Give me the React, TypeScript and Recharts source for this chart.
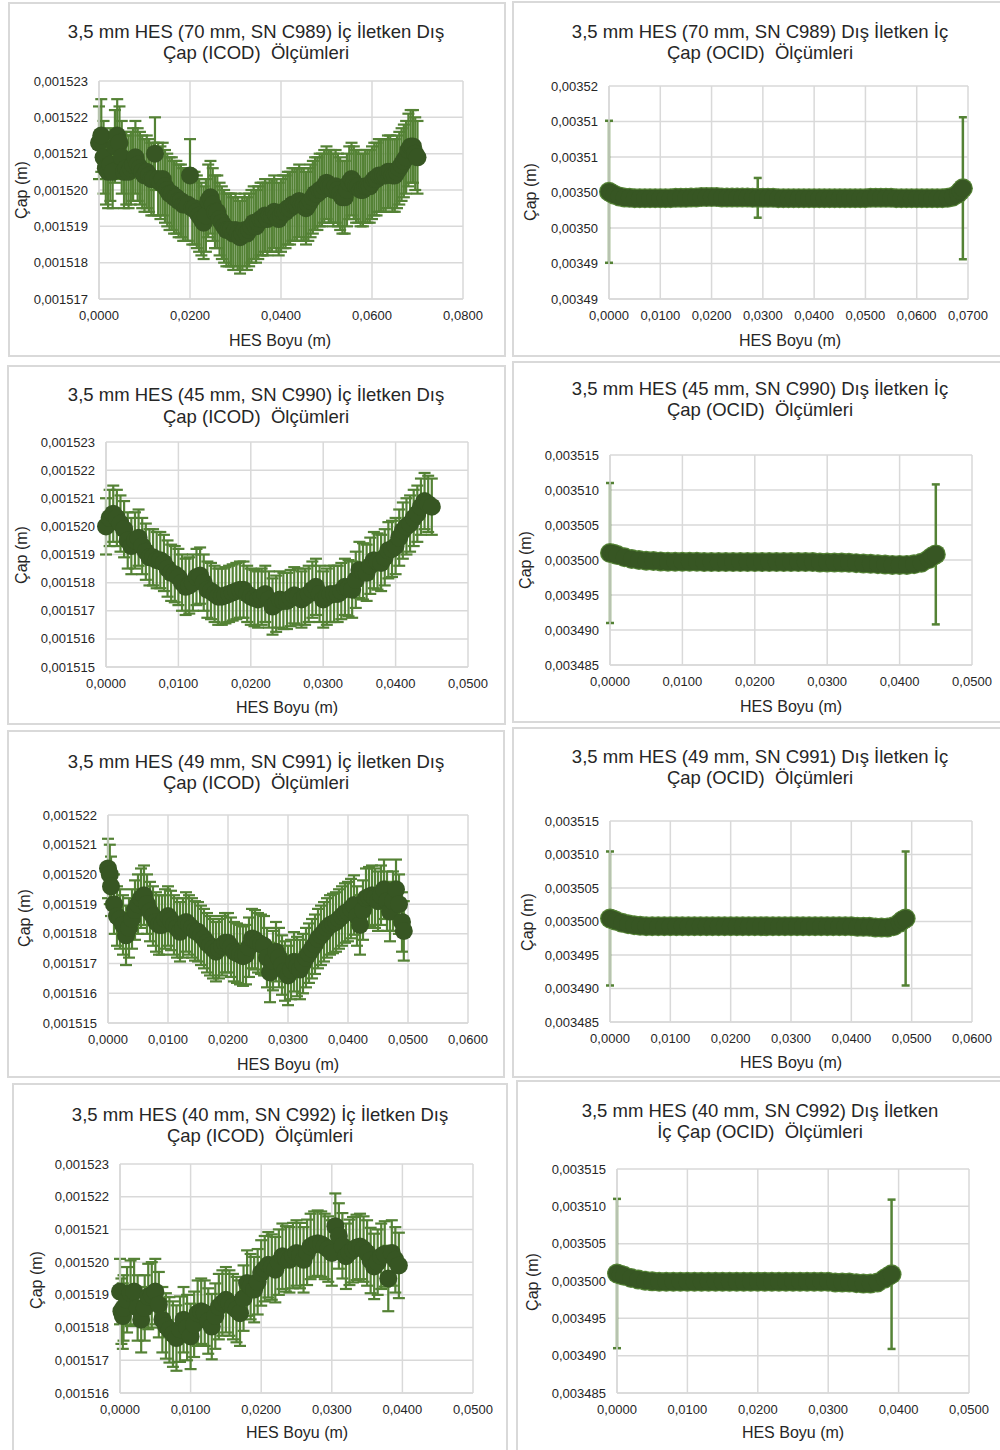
import { CartesianGrid, ErrorBar, Scatter, ScatterChart, XAxis, YAxis } from "recharts";

// [HES boyu (mm), çap (µm)]
type Pair = [number, number];

// --- İç iletken dış çap (ICOD) ---
const c989Icod: Pair[] = [
  [0, 1521.3], [0.5, 1521.5], [1, 1520.9], [1.5, 1520.6], [2, 1520.5], [2.5, 1520.7], [3, 1520.5], [3.5, 1521.2],
  [4, 1521.5], [4.5, 1521.3], [5, 1520.9], [5.5, 1520.5], [6, 1520.6], [6.5, 1520.5], [7, 1520.6], [7.5, 1520.7],
  [8, 1520.9], [8.5, 1520.7], [9, 1520.6], [9.5, 1520.5], [10, 1520.4], [10.5, 1520.5], [11, 1520.4], [11.5, 1520.3],
  [12, 1520.3], [12.3, 1521.0], [13, 1520.3], [13.5, 1520.2], [14, 1520.3], [14.5, 1520.1], [15, 1520.0], [15.5, 1519.9],
  [16, 1519.9], [16.5, 1519.8], [17, 1519.8], [17.5, 1519.7], [18, 1519.7], [18.5, 1519.6], [19, 1519.6], [19.5, 1519.6],
  [20, 1520.4], [20.5, 1519.5], [21, 1519.5], [21.5, 1519.4], [22, 1519.3], [22.5, 1519.2], [23, 1519.1], [23.5, 1519.3],
  [24, 1519.7], [24.5, 1519.8], [25, 1519.6], [25.5, 1519.4], [26, 1519.4], [26.5, 1519.2], [27, 1519.1], [27.5, 1519.0],
  [28, 1518.9], [28.5, 1518.9], [29, 1518.9], [29.5, 1518.8], [30, 1518.9], [30.5, 1518.8], [31, 1518.7], [31.5, 1518.8],
  [32, 1518.9], [32.5, 1518.8], [33, 1518.9], [33.5, 1519.0], [34, 1519.1], [34.5, 1519.0], [35, 1519.1], [35.5, 1519.2],
  [36, 1519.2], [36.5, 1519.3], [37, 1519.2], [37.5, 1519.3], [38, 1519.3], [38.5, 1519.4], [39, 1519.3], [39.5, 1519.2],
  [40, 1519.3], [40.5, 1519.4], [41, 1519.4], [41.5, 1519.5], [42, 1519.5], [42.5, 1519.6], [43, 1519.6], [43.5, 1519.6],
  [44, 1519.7], [44.5, 1519.6], [45, 1519.6], [45.5, 1519.5], [46, 1519.6], [46.5, 1519.7], [47, 1519.8], [47.5, 1519.9],
  [48, 1519.9], [48.5, 1520.0], [49, 1520.0], [49.5, 1520.1], [50, 1520.2], [50.5, 1520.1], [51, 1520.1], [51.5, 1520.0],
  [52, 1520.1], [52.5, 1520.0], [53, 1519.9], [53.5, 1519.8], [54, 1519.8], [54.5, 1520.0], [55, 1520.2], [55.5, 1520.3],
  [56, 1520.2], [56.5, 1520.1], [57, 1520.1], [57.5, 1520.0], [58, 1520.0], [58.5, 1520.1], [59, 1520.1], [59.5, 1520.1],
  [60, 1520.2], [60.5, 1520.3], [61, 1520.3], [61.5, 1520.4], [62, 1520.4], [62.5, 1520.4], [63, 1520.4], [63.5, 1520.5],
  [64, 1520.5], [64.5, 1520.4], [65, 1520.4], [65.5, 1520.5], [66, 1520.6], [66.5, 1520.7], [67, 1520.8], [67.5, 1520.9],
  [68, 1521.1], [68.5, 1521.2], [69, 1521.2], [69.5, 1521.0], [70, 1520.9],
];

const c990Icod: Pair[] = [
  [0, 1520.0], [0.5, 1520.3], [1, 1520.45], [1.5, 1520.3], [2, 1520.1], [2.5, 1519.9], [3, 1519.5], [3.5, 1519.3],
  [4, 1519.5], [4.5, 1519.6], [5, 1519.3], [5.5, 1519.1], [6, 1518.9], [6.5, 1518.9], [7, 1518.8], [7.5, 1518.8],
  [8, 1518.7], [8.5, 1518.5], [9, 1518.35], [9.5, 1518.3], [10, 1518.2], [10.5, 1518.0], [11, 1517.85], [11.5, 1517.9],
  [12, 1518.0], [12.5, 1518.2], [13, 1518.25], [13.5, 1518.0], [14, 1517.75], [14.5, 1517.7], [15, 1517.6], [15.5, 1517.5],
  [16, 1517.5], [16.5, 1517.55], [17, 1517.6], [17.5, 1517.65], [18, 1517.7], [18.5, 1517.75], [19, 1517.75], [19.5, 1517.6],
  [20, 1517.5], [20.5, 1517.45], [21, 1517.4], [21.5, 1517.5], [22, 1517.6], [22.5, 1517.4], [23, 1517.15], [23.5, 1517.25],
  [24, 1517.4], [24.5, 1517.35], [25, 1517.35], [25.5, 1517.45], [26, 1517.55], [26.5, 1517.5], [27, 1517.4], [27.5, 1517.5],
  [28, 1517.6], [28.5, 1517.75], [29, 1517.85], [29.5, 1517.6], [30, 1517.4], [30.5, 1517.5], [31, 1517.6], [31.5, 1517.6],
  [32, 1517.6], [32.5, 1517.7], [33, 1517.85], [33.5, 1517.8], [34, 1517.75], [34.5, 1518.1], [35, 1518.45], [35.5, 1518.4],
  [36, 1518.35], [36.5, 1518.6], [37, 1518.8], [37.5, 1518.75], [38, 1518.7], [38.5, 1518.9], [39, 1519.15], [39.5, 1519.2],
  [40, 1519.3], [40.5, 1519.6], [41, 1519.85], [41.5, 1520.0], [42, 1520.1], [42.5, 1520.3], [43, 1520.45], [43.5, 1520.7],
  [44, 1520.9], [44.5, 1520.8], [45, 1520.7],
];

const c991Icod: Pair[] = [
  [0, 1520.2], [0.3, 1520.0], [0.5, 1519.6], [1, 1519.0], [1.5, 1518.6], [2, 1518.5], [2.5, 1518.3], [3, 1517.95],
  [3.5, 1518.2], [4, 1518.5], [4.5, 1518.8], [5, 1519.0], [5.5, 1519.2], [6, 1519.3], [6.5, 1519.0], [7, 1518.75],
  [7.5, 1518.6], [8, 1518.4], [8.5, 1518.3], [9, 1518.3], [9.5, 1518.5], [10, 1518.6], [10.5, 1518.45], [11, 1518.3],
  [11.5, 1518.2], [12, 1518.07], [12.5, 1518.2], [13, 1518.4], [13.5, 1518.3], [14, 1518.2], [14.5, 1518.1], [15, 1518.07],
  [15.5, 1517.95], [16, 1517.84], [16.5, 1517.7], [17, 1517.6], [17.5, 1517.5], [18, 1517.4], [18.5, 1517.5], [19, 1517.6],
  [19.5, 1517.7], [20, 1517.7], [20.5, 1517.55], [21, 1517.4], [21.5, 1517.35], [22, 1517.3], [22.5, 1517.25], [23, 1517.3],
  [23.5, 1517.55], [24, 1517.84], [24.5, 1517.8], [25, 1517.7], [25.5, 1517.65], [26, 1517.6], [26.5, 1517.2], [27, 1516.7],
  [27.5, 1517.1], [28, 1517.4], [28.5, 1517.2], [29, 1516.95], [29.5, 1516.75], [30, 1516.6], [30.5, 1516.8], [31, 1517.06],
  [31.5, 1516.9], [32, 1516.8], [32.5, 1517.0], [33, 1517.2], [33.5, 1517.35], [34, 1517.5], [34.5, 1517.65], [35, 1517.84],
  [35.5, 1517.95], [36, 1518.07], [36.5, 1518.2], [37, 1518.3], [37.5, 1518.35], [38, 1518.4], [38.5, 1518.5], [39, 1518.6],
  [39.5, 1518.7], [40, 1518.75], [40.5, 1518.85], [41, 1518.97], [41.5, 1518.6], [42, 1518.3], [42.5, 1518.8], [43, 1519.2],
  [43.5, 1519.25], [44, 1519.3], [44.5, 1519.2], [45, 1519.1], [45.5, 1519.3], [46, 1519.5], [46.5, 1519.1], [47, 1518.75],
  [47.5, 1519.1], [48, 1519.5], [48.5, 1519.0], [49, 1518.4], [49.3, 1518.1],
];

const c992Icod: Pair[] = [
  [0, 1519.1], [0.2, 1518.5], [0.4, 1518.35], [0.5, 1518.6], [1, 1518.85], [1.5, 1519.05], [2, 1519.1], [2.5, 1518.6],
  [3, 1518.24], [3.5, 1518.6], [4, 1518.95], [4.5, 1519.0], [5, 1519.1], [5.5, 1518.7], [6, 1518.24], [6.5, 1518.05],
  [7, 1517.93], [7.5, 1517.8], [8, 1517.68], [8.5, 1517.95], [9, 1518.24], [9.5, 1518.0], [10, 1517.73], [10.5, 1518.1],
  [11, 1518.44], [11.5, 1518.5], [12, 1518.44], [12.5, 1518.2], [13, 1518.03], [13.5, 1518.35], [14, 1518.64], [14.5, 1518.75],
  [15, 1518.85], [15.5, 1518.75], [16, 1518.64], [16.5, 1518.55], [17, 1518.44], [17.5, 1518.9], [18, 1519.36], [18.5, 1519.25],
  [19, 1519.16], [19.5, 1519.4], [20, 1519.67], [20.5, 1519.8], [21, 1519.92], [21.5, 1519.85], [22, 1519.77], [22.5, 1520.0],
  [23, 1520.18], [23.5, 1520.1], [24, 1520.07], [24.5, 1520.2], [25, 1520.28], [25.5, 1520.2], [26, 1520.07], [26.5, 1520.3],
  [27, 1520.48], [27.5, 1520.55], [28, 1520.58], [28.5, 1520.55], [29, 1520.48], [29.5, 1520.4], [30, 1520.28], [30.5, 1521.1],
  [31, 1520.8], [31.5, 1520.5], [32, 1520.18], [32.5, 1520.3], [33, 1520.38], [33.5, 1520.45], [34, 1520.48], [34.5, 1520.4],
  [35, 1520.28], [35.5, 1520.05], [36, 1519.87], [36.5, 1520.0], [37, 1520.18], [37.5, 1520.25], [38, 1519.5], [38.5, 1520.28],
  [39, 1520.07], [39.5, 1519.9],
];

const ICOD_ERR_UM = 1;

// --- Dış iletken iç çap (OCID) ---
const c989Ocid: Pair[] = [
  [0, 3500.1], [0.5, 3499.9], [1, 3499.7], [2, 3499.45], [3, 3499.3], [4, 3499.25], [5, 3499.2], [6, 3499.2],
  [7, 3499.2], [8, 3499.2], [9, 3499.2], [10, 3499.2], [11, 3499.2], [12, 3499.2], [13, 3499.25], [14, 3499.25],
  [15, 3499.25], [16, 3499.3], [17, 3499.3], [18, 3499.35], [19, 3499.35], [20, 3499.35], [21, 3499.35], [22, 3499.3],
  [23, 3499.3], [24, 3499.3], [25, 3499.3], [26, 3499.3], [27, 3499.3], [28, 3499.25], [29, 3499.25], [30, 3499.25],
  [31, 3499.25], [32, 3499.25], [33, 3499.2], [34, 3499.2], [35, 3499.2], [36, 3499.2], [37, 3499.2], [38, 3499.2],
  [39, 3499.2], [40, 3499.2], [41, 3499.2], [42, 3499.2], [43, 3499.2], [44, 3499.2], [45, 3499.2], [46, 3499.2],
  [47, 3499.2], [48, 3499.2], [49, 3499.2], [50, 3499.2], [51, 3499.25], [52, 3499.25], [53, 3499.25], [54, 3499.25],
  [55, 3499.25], [56, 3499.2], [57, 3499.2], [58, 3499.2], [59, 3499.2], [60, 3499.2], [61, 3499.2], [62, 3499.2],
  [63, 3499.2], [64, 3499.2], [65, 3499.2], [66, 3499.25], [67, 3499.4], [68, 3499.8], [68.5, 3500.2], [69, 3500.6],
];
const c989OcidErr: Pair[] = [[0, 10], [29, 2.8], [69, 10]];

const c990Ocid: Pair[] = [
  [0, 3501.0], [0.5, 3500.9], [1, 3500.7], [2, 3500.4], [3, 3500.15], [4, 3500.0], [5, 3499.9], [6, 3499.85],
  [7, 3499.8], [8, 3499.75], [9, 3499.75], [10, 3499.75], [11, 3499.75], [12, 3499.75], [13, 3499.7], [14, 3499.7],
  [15, 3499.7], [16, 3499.7], [17, 3499.7], [18, 3499.7], [19, 3499.7], [20, 3499.7], [21, 3499.7], [22, 3499.7],
  [23, 3499.7], [24, 3499.7], [25, 3499.7], [26, 3499.7], [27, 3499.7], [28, 3499.7], [29, 3499.65], [30, 3499.65],
  [31, 3499.65], [32, 3499.65], [33, 3499.6], [34, 3499.55], [35, 3499.5], [36, 3499.45], [37, 3499.4], [38, 3499.35],
  [39, 3499.3], [40, 3499.3], [41, 3499.3], [42, 3499.4], [43, 3499.6], [44, 3500.1], [44.5, 3500.5], [45, 3500.8],
];
const c990OcidErr: Pair[] = [[0, 10], [45, 10]];

const c991Ocid: Pair[] = [
  [0, 3500.45], [0.5, 3500.3], [1, 3500.1], [2, 3499.8], [3, 3499.6], [4, 3499.45], [5, 3499.35], [6, 3499.3],
  [7, 3499.3], [8, 3499.3], [9, 3499.3], [10, 3499.3], [11, 3499.3], [12, 3499.3], [13, 3499.3], [14, 3499.3],
  [15, 3499.3], [16, 3499.3], [17, 3499.3], [18, 3499.3], [19, 3499.3], [20, 3499.3], [21, 3499.3], [22, 3499.3],
  [23, 3499.3], [24, 3499.3], [25, 3499.3], [26, 3499.3], [27, 3499.3], [28, 3499.3], [29, 3499.3], [30, 3499.3],
  [31, 3499.3], [32, 3499.3], [33, 3499.3], [34, 3499.3], [35, 3499.3], [36, 3499.3], [37, 3499.3], [38, 3499.3],
  [39, 3499.3], [40, 3499.3], [41, 3499.2], [42, 3499.2], [43, 3499.2], [44, 3499.1], [45, 3499.1], [46, 3499.1],
  [47, 3499.3], [48, 3499.8], [48.5, 3500.2], [49, 3500.45],
];
const c991OcidErr: Pair[] = [[0, 10], [49, 10]];

const c992Ocid: Pair[] = [
  [0, 3501.0], [0.5, 3500.85], [1, 3500.7], [2, 3500.4], [3, 3500.2], [4, 3500.05], [5, 3499.95], [6, 3499.9],
  [7, 3499.9], [8, 3499.9], [9, 3499.9], [10, 3499.9], [11, 3499.9], [12, 3499.9], [13, 3499.9], [14, 3499.9],
  [15, 3499.9], [16, 3499.9], [17, 3499.9], [18, 3499.9], [19, 3499.9], [20, 3499.9], [21, 3499.9], [22, 3499.9],
  [23, 3499.9], [24, 3499.9], [25, 3499.9], [26, 3499.9], [27, 3499.9], [28, 3499.9], [29, 3499.9], [30, 3499.9],
  [31, 3499.8], [32, 3499.8], [33, 3499.8], [34, 3499.7], [35, 3499.65], [36, 3499.65], [37, 3499.8], [38, 3500.3],
  [38.5, 3500.6], [39, 3500.9],
];
const c992OcidErr: Pair[] = [[0, 10], [39, 10]];

// --- eksen değerleri ---
const x08Ticks = [0, 0.02, 0.04, 0.06, 0.08];
const x07Ticks = [0, 0.01, 0.02, 0.03, 0.04, 0.05, 0.06, 0.07];
const x06Ticks = [0, 0.01, 0.02, 0.03, 0.04, 0.05, 0.06];
const x05Ticks = [0, 0.01, 0.02, 0.03, 0.04, 0.05];
const c989IcodYTicks = [0.001517, 0.001518, 0.001519, 0.00152, 0.001521, 0.001522, 0.001523];
const c990IcodYTicks = [0.001515, 0.001516, 0.001517, 0.001518, 0.001519, 0.00152, 0.001521, 0.001522, 0.001523];
const c991IcodYTicks = [0.001515, 0.001516, 0.001517, 0.001518, 0.001519, 0.00152, 0.001521, 0.001522];
const c992IcodYTicks = [0.001516, 0.001517, 0.001518, 0.001519, 0.00152, 0.001521, 0.001522, 0.001523];
const ocidYTicks = [0.003485, 0.00349, 0.003495, 0.0035, 0.003505, 0.00351, 0.003515];
const c989OcidYLabels = ["0,00349", "0,00349", "0,00350", "0,00350", "0,00351", "0,00351", "0,00352"];

const FONT = '"Liberation Sans", Arial, sans-serif';
const TEXT = "#262626";
const GRID = "#d9d9d9";
const DARK = "#375623";
const MID = "#548235";

type Spec = {
  box: [number, number, number, number];
  plot: [number, number, number, number];
  title: [string, string];
  titleX: number;
  titleY: [number, number];
  yLabel: [number, number];
  xLabel: [number, number];
  kind: "icod" | "ocid";
  points: Pair[];
  errors?: Pair[];
  xTicks: number[];
  yTicks: number[];
  yLabels?: string[];
};

const specs: Spec[] = [
  {
    box: [8, 2, 498, 355], plot: [99, 81, 364, 218],
    title: ["3,5 mm HES (70 mm, SN C989) İç İletken Dış", "Çap (ICOD)  Ölçümleri"], titleX: 256, titleY: [32, 53],
    yLabel: [22, 190], xLabel: [280, 341], kind: "icod", points: c989Icod, xTicks: x08Ticks, yTicks: c989IcodYTicks,
  },
  {
    box: [512, 1, 500, 356], plot: [609, 86, 359, 213],
    title: ["3,5 mm HES (70 mm, SN C989) Dış İletken İç", "Çap (OCID)  Ölçümleri"], titleX: 760, titleY: [32, 53],
    yLabel: [531, 192], xLabel: [790, 341], kind: "ocid", points: c989Ocid, errors: c989OcidErr,
    xTicks: x07Ticks, yTicks: ocidYTicks, yLabels: c989OcidYLabels,
  },
  {
    box: [7, 365, 499, 360], plot: [106, 442, 362, 225],
    title: ["3,5 mm HES (45 mm, SN C990) İç İletken Dış", "Çap (ICOD)  Ölçümleri"], titleX: 256, titleY: [395, 417],
    yLabel: [22, 555], xLabel: [287, 708], kind: "icod", points: c990Icod, xTicks: x05Ticks, yTicks: c990IcodYTicks,
  },
  {
    box: [512, 361, 500, 362], plot: [610, 455, 362, 210],
    title: ["3,5 mm HES (45 mm, SN C990) Dış İletken İç", "Çap (OCID)  Ölçümleri"], titleX: 760, titleY: [389, 410],
    yLabel: [526, 560], xLabel: [791, 707], kind: "ocid", points: c990Ocid, errors: c990OcidErr,
    xTicks: x05Ticks, yTicks: ocidYTicks,
  },
  {
    box: [7, 730, 498, 348], plot: [108, 815, 360, 208],
    title: ["3,5 mm HES (49 mm, SN C991) İç İletken Dış", "Çap (ICOD)  Ölçümleri"], titleX: 256, titleY: [762, 783],
    yLabel: [25, 918], xLabel: [288, 1065], kind: "icod", points: c991Icod, xTicks: x06Ticks, yTicks: c991IcodYTicks,
  },
  {
    box: [512, 727, 500, 351], plot: [610, 821, 362, 201],
    title: ["3,5 mm HES (49 mm, SN C991) Dış İletken İç", "Çap (OCID)  Ölçümleri"], titleX: 760, titleY: [757, 778],
    yLabel: [528, 922], xLabel: [791, 1063], kind: "ocid", points: c991Ocid, errors: c991OcidErr,
    xTicks: x06Ticks, yTicks: ocidYTicks,
  },
  {
    box: [12, 1083, 496, 380], plot: [120, 1164, 353, 229],
    title: ["3,5 mm HES (40 mm, SN C992) İç İletken Dış", "Çap (ICOD)  Ölçümleri"], titleX: 260, titleY: [1115, 1136],
    yLabel: [37, 1280], xLabel: [297, 1433], kind: "icod", points: c992Icod, xTicks: x05Ticks, yTicks: c992IcodYTicks,
  },
  {
    box: [516, 1080, 500, 380], plot: [617, 1169, 352, 224],
    title: ["3,5 mm HES (40 mm, SN C992) Dış İletken", "İç Çap (OCID)  Ölçümleri"], titleX: 760, titleY: [1111, 1132],
    yLabel: [533, 1282], xLabel: [793, 1433], kind: "ocid", points: c992Ocid, errors: c992OcidErr,
    xTicks: x05Ticks, yTicks: ocidYTicks,
  },
];

function toRows(spec: Spec) {
  return spec.points.map(([mm, um]) => {
    let errUm: number | undefined = ICOD_ERR_UM;
    if (spec.kind === "ocid") {
      const hit = (spec.errors ?? []).find(([m]) => m === mm);
      errUm = hit ? hit[1] : undefined;
    }
    return { x: mm / 1000, y: um / 1e6, err: errUm === undefined ? undefined : errUm / 1e6 };
  });
}

const L = 110;
const T = 10;
const R = 40;
const B = 30;

function Panel({ spec }: { spec: Spec }) {
  const [pl, pt, pw, ph] = spec.plot;
  const rows = toRows(spec);
  const tick = { fontSize: 13, fill: TEXT, fontFamily: FONT };
  const yFmt = (v: number) => {
    if (spec.yLabels) {
      const i = spec.yTicks.findIndex((t) => Math.abs(t - v) < 1e-10);
      if (i >= 0) return spec.yLabels[i];
    }
    return v.toFixed(6).replace(".", ",");
  };
  const textBase = {
    position: "absolute" as const,
    fontFamily: FONT,
    color: TEXT,
    whiteSpace: "pre" as const,
    lineHeight: 1,
  };
  return (
    <>
      <div
        style={{
          position: "absolute",
          left: spec.box[0],
          top: spec.box[1],
          width: spec.box[2],
          height: spec.box[3],
          border: `2px solid ${GRID}`,
          boxSizing: "border-box",
          background: "#fff",
        }}
      />
      {spec.title.map((line, i) => (
        <div
          key={i}
          style={{ ...textBase, fontSize: 18.5, left: spec.titleX, top: spec.titleY[i], transform: "translate(-50%, -50%)" }}
        >
          {line}
        </div>
      ))}
      <div
        style={{
          ...textBase,
          fontSize: 16,
          left: spec.yLabel[0],
          top: spec.yLabel[1],
          transform: "translate(-50%, -50%) rotate(-90deg)",
        }}
      >
        Çap (m)
      </div>
      <div style={{ ...textBase, fontSize: 16, left: spec.xLabel[0], top: spec.xLabel[1], transform: "translate(-50%, -50%)" }}>
        HES Boyu (m)
      </div>
      <div style={{ position: "absolute", left: pl - L, top: pt - T }}>
        <ScatterChart width={pw + L + R} height={ph + T + B} margin={{ top: T, right: R, bottom: 0, left: 0 }}>
          <CartesianGrid stroke={GRID} strokeWidth={1.5} />
          <XAxis
            type="number"
            dataKey="x"
            domain={[spec.xTicks[0], spec.xTicks[spec.xTicks.length - 1]]}
            ticks={spec.xTicks}
            interval={0}
            height={B}
            tick={tick}
            tickLine={false}
            tickMargin={6}
            axisLine={{ stroke: GRID, strokeWidth: 1.5 }}
            tickFormatter={(v: number) => v.toFixed(4).replace(".", ",")}
          />
          <YAxis
            type="number"
            dataKey="y"
            domain={[spec.yTicks[0], spec.yTicks[spec.yTicks.length - 1]]}
            ticks={spec.yTicks}
            interval={0}
            width={L}
            tick={tick}
            tickLine={false}
            tickMargin={5}
            axisLine={{ stroke: GRID, strokeWidth: 1.5 }}
            tickFormatter={yFmt}
          />
          {spec.kind === "icod" ? (
            <Scatter
              data={rows}
              isAnimationActive={false}
              shape={(p: any) => <circle cx={p.cx} cy={p.cy} r={9} fill={DARK} />}
            >
              <ErrorBar dataKey="err" direction="y" width={6} stroke={MID} strokeWidth={2.2} isAnimationActive={false} />
            </Scatter>
          ) : (
            <Scatter
              data={rows}
              isAnimationActive={false}
              shape={(p: any) => <circle cx={p.cx} cy={p.cy} r={10} fill={MID} />}
            >
              <ErrorBar dataKey="err" direction="y" width={4} stroke={MID} strokeWidth={2.5} isAnimationActive={false} />
            </Scatter>
          )}
          {spec.kind === "ocid" && (
            <Scatter
              data={rows}
              isAnimationActive={false}
              shape={(p: any) => <circle cx={p.cx} cy={p.cy} r={8.8} fill={DARK} />}
            />
          )}
        </ScatterChart>
      </div>
    </>
  );
}

export default function App() {
  return (
    <div
      style={{
        position: "absolute",
        left: 0,
        top: 0,
        width: 1000,
        height: 1450,
        overflow: "hidden",
        background: "#fff",
      }}
    >
      {specs.map((s, i) => (
        <Panel key={i} spec={s} />
      ))}
    </div>
  );
}
